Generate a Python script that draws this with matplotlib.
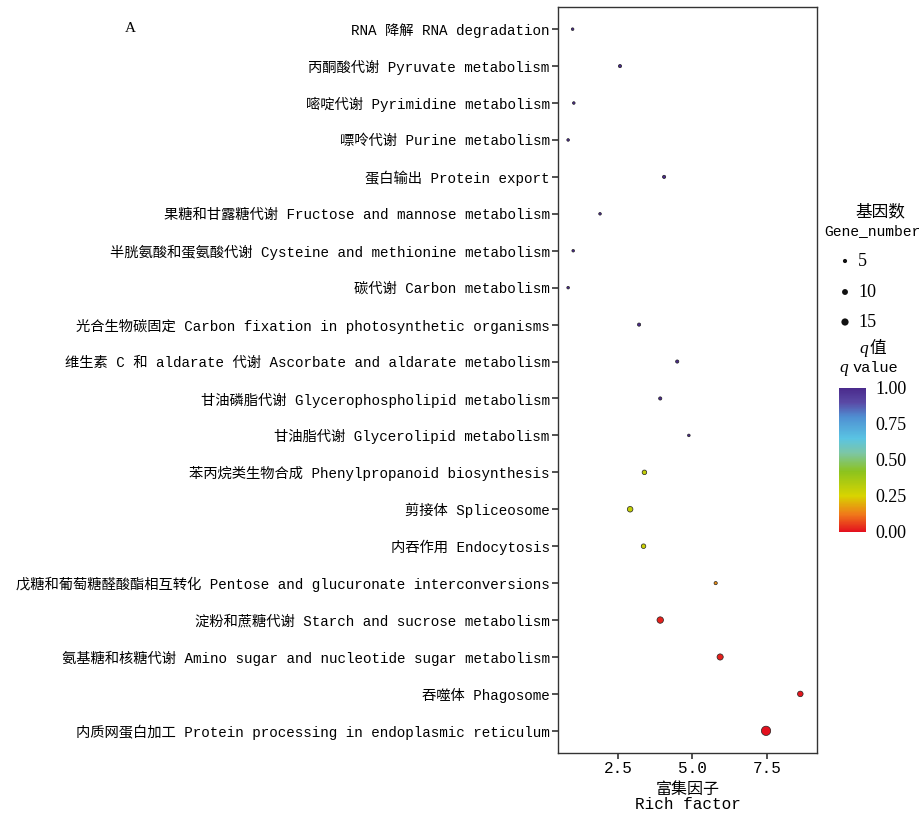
import matplotlib
matplotlib.use('Agg')
import matplotlib.pyplot as plt
import numpy as np
from matplotlib.colors import LinearSegmentedColormap

# KEGG enrichment, listed from top to bottom as in the figure
pathways = [
    'RNA 降解 RNA degradation',
    '丙酮酸代谢 Pyruvate metabolism',
    '嘧啶代谢 Pyrimidine metabolism',
    '嘌呤代谢 Purine metabolism',
    '蛋白输出 Protein export',
    '果糖和甘露糖代谢 Fructose and mannose metabolism',
    '半胱氨酸和蛋氨酸代谢 Cysteine and methionine metabolism',
    '碳代谢 Carbon metabolism',
    '光合生物碳固定 Carbon fixation in photosynthetic organisms',
    '维生素 C 和 aldarate 代谢 Ascorbate and aldarate metabolism',
    '甘油磷脂代谢 Glycerophospholipid metabolism',
    '甘油脂代谢 Glycerolipid metabolism',
    '苯丙烷类生物合成 Phenylpropanoid biosynthesis',
    '剪接体 Spliceosome',
    '内吞作用 Endocytosis',
    '戊糖和葡萄糖醛酸酯相互转化 Pentose and glucuronate interconversions',
    '淀粉和蔗糖代谢 Starch and sucrose metabolism',
    '氨基糖和核糖代谢 Amino sugar and nucleotide sugar metabolism',
    '吞噬体 Phagosome',
    '内质网蛋白加工 Protein processing in endoplasmic reticulum',
]
rich_factor = [0.98, 2.57, 1.02, 0.83, 4.05, 1.90, 1.00, 0.83, 3.21, 4.49,
               3.92, 4.88, 3.39, 2.91, 3.36, 5.78, 3.92, 5.93, 8.62, 7.47]
gene_number = [2, 3, 2, 2, 3, 2, 2, 2, 3, 3,
               3, 2, 6, 9, 6, 3, 12, 11, 9, 25]
q_value = [1.0, 1.0, 1.0, 1.0, 1.0, 1.0, 1.0, 1.0, 1.0, 1.0,
           1.0, 1.0, 0.30, 0.30, 0.28, 0.15, 0.02, 0.02, 0.01, 0.0]

legend_genes = [5, 10, 15]
q_ticks = [0.0, 0.25, 0.5, 0.75, 1.0]

LAB = ['Liberation Mono', 'Noto Sans CJK SC']
NUM = ['Liberation Serif', 'Noto Sans CJK SC']

cmap = LinearSegmentedColormap.from_list('q', [
    (0.00, '#e3101e'), (0.12, '#f0781a'), (0.25, '#d8d400'),
    (0.42, '#8cc31e'), (0.55, '#7cc6a6'), (0.65, '#5ac4e3'),
    (0.80, '#4f8fd2'), (0.90, '#5a4aa6'), (1.00, '#4a2a8c')])


def dot_size(n):
    return np.asarray(n) * 1.8


W, H = 923, 816


def box(l, t, r, b):
    return [l / W, 1 - b / H, (r - l) / W, (b - t) / H]


fig = plt.figure(figsize=(9.23, 8.16), dpi=100)
ax = fig.add_axes(box(558, 7, 817, 753))

y = np.arange(len(pathways))
sc = ax.scatter(rich_factor, y, s=dot_size(gene_number), c=q_value, cmap=cmap,
                vmin=0, vmax=1, edgecolors='#222222', linewidths=0.5, zorder=3)
ax.set_ylim(len(pathways) - 0.4, -0.6)
ax.set_yticks(y)
ax.set_yticklabels(pathways, family=LAB, fontsize=10.3, color='black')
ax.set_xlim(0.49, 9.18)
ax.set_xticks([2.5, 5.0, 7.5])
ax.set_xticklabels(['2.5', '5.0', '7.5'], family=LAB, fontsize=11.5, color='black')
ax.tick_params(direction='out', length=4, width=1.2, color='#333333', pad=2)
for s in ax.spines.values():
    s.set_linewidth(1.0)
    s.set_color('#333333')
ax.set_xlabel('富集因子\nRich factor', family=LAB, fontsize=11.5,
              linespacing=1.05, labelpad=4)

fig.text(125 / W, 1 - 29 / H, 'A', family=NUM, fontsize=11, va='center')

# gene number legend
lax = fig.add_axes(box(818, 190, 923, 340))
lax.set_xlim(818, 923)
lax.set_ylim(340, 190)
lax.axis('off')
lax.text(880, 211, '基因数', family=LAB, fontsize=12, ha='center', va='center')
lax.text(872, 231, 'Gene_number', family=LAB, fontsize=10.5, ha='center', va='center')
ly = [261, 292, 322]
lax.scatter([845] * 3, ly, s=dot_size(legend_genes), color='#111111', linewidths=0)
for yy, g in zip(ly, legend_genes):
    lax.text(858, yy, str(g), family=NUM, fontsize=13, va='center')

# q value title
fig.text(868 / W, 1 - 349 / H, 'q', family=NUM, fontsize=12.5, style='italic',
         ha='right', va='center')
fig.text(869 / W, 1 - 348 / H, '值', family=LAB, fontsize=12, ha='left', va='center')
fig.text(848 / W, 1 - 368 / H, 'q', family=NUM, fontsize=12.5, style='italic',
         ha='right', va='center')
fig.text(852 / W, 1 - 368 / H, 'value', family=LAB, fontsize=11, ha='left', va='center')

cax = fig.add_axes(box(839, 388, 866, 532))
cb = fig.colorbar(sc, cax=cax, ticks=q_ticks)
cb.outline.set_visible(False)
cb.ax.tick_params(length=0, pad=7)
cb.ax.set_yticklabels(['%.2f' % t for t in q_ticks], family=NUM, fontsize=13)

fig.savefig('out.png', dpi=100)
